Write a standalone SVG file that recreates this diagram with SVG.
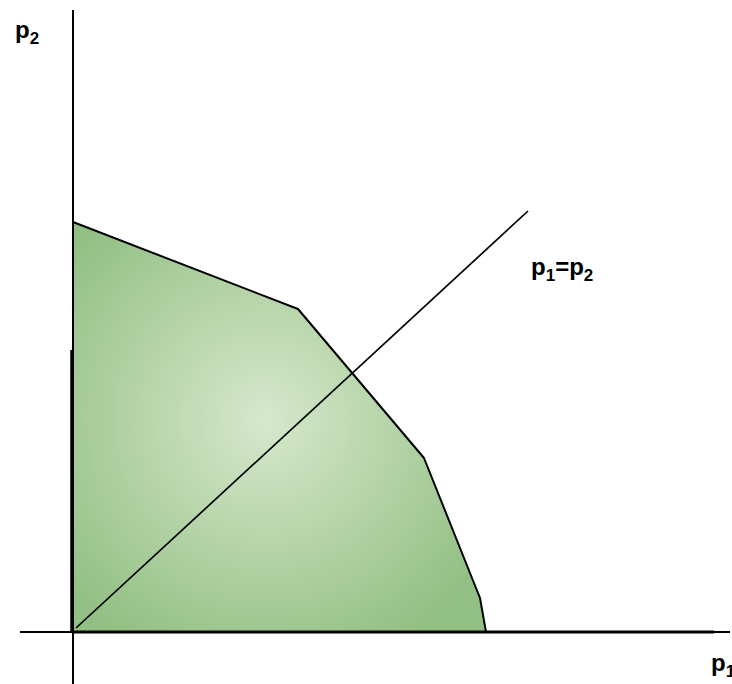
<svg xmlns="http://www.w3.org/2000/svg" width="732" height="684" viewBox="0 0 732 684">
<style>
.lbl{font-family:"Liberation Sans",Arial,sans-serif;font-weight:bold;font-size:24px;fill:#000}
.sub{font-size:17px}
.ax{stroke:#000;fill:none}
</style>
<defs>
<radialGradient id="g" cx="265" cy="420" r="260" gradientUnits="userSpaceOnUse">
<stop offset="0" stop-color="#d6e8cc"/>
<stop offset="1" stop-color="#92bf83"/>
</radialGradient>
</defs>
<rect width="732" height="684" fill="#fff"/>
<g id="region">
<polygon points="73,222 298,309 424,458 480,598 486,632 73,632" fill="url(#g)" stroke="#000" stroke-width="2" stroke-linejoin="round"/>
</g>
<g id="connectors">
<line class="ax" x1="73" y1="10" x2="73" y2="684" stroke-width="2"/>
<line class="ax" x1="72" y1="350" x2="72" y2="632" stroke-width="3.5"/>
<line class="ax" x1="20" y1="632" x2="730" y2="632" stroke-width="2"/>
<line class="ax" x1="72" y1="632" x2="714" y2="632" stroke-width="3"/>
<line class="ax" x1="76" y1="628" x2="528" y2="211" stroke-width="1.7"/>
</g>
<g id="labels">
<text class="lbl" x="15" y="38">p<tspan class="sub" dy="6">2</tspan></text>
<text class="lbl" x="531" y="275">p<tspan class="sub" dy="6">1</tspan><tspan dy="-6">=p</tspan><tspan class="sub" dy="6">2</tspan></text>
<text class="lbl" x="711" y="671">p<tspan class="sub" dy="6">1</tspan></text>
</g>
</svg>
